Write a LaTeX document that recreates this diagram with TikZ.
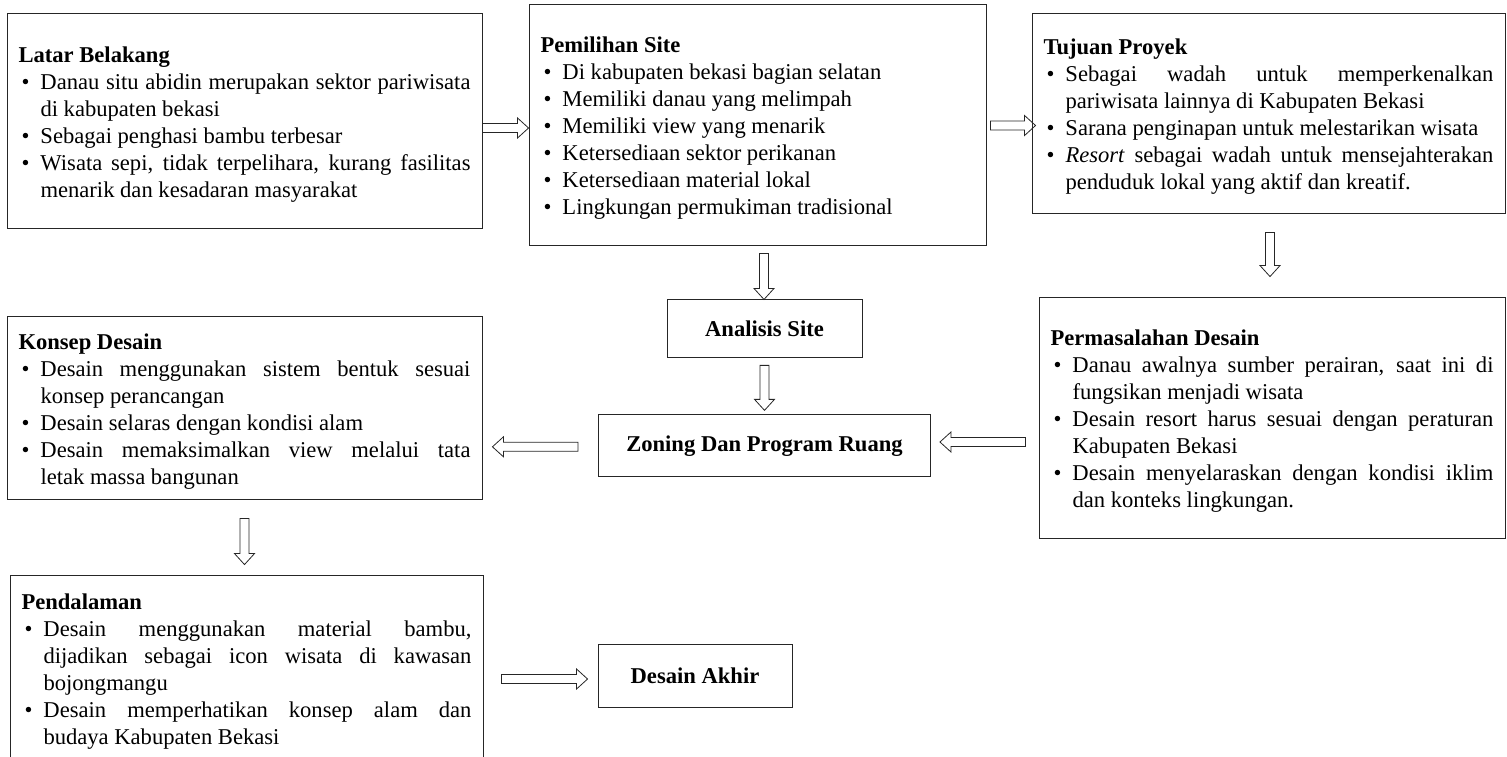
\documentclass[tikz,border=0pt]{standalone}
\usepackage{fontspec}
\setmainfont{Liberation Serif}
\usetikzlibrary{calc, positioning}

\hyphenpenalty=10000
\exhyphenpenalty=10000
\tolerance=9000

% bullet item inside a box
\newcommand{\itm}{\par\noindent\hangindent=22pt\hangafter=1\makebox[22pt][l]{\hspace{3pt}\textbullet}\ignorespaces}
% end of a box text
\newcommand{\boxend}{\par\vskip-8pt\nointerlineskip\hbox{}}

\begin{document}
\begin{tikzpicture}[
		x=1pt, y=-1pt,
		every node/.style={font=\fontsize{22.6}{27}\selectfont},
		listbox/.style={
			rectangle,
			draw=black!85,
			line width=0.9pt,
			inner xsep=11.5pt,
			inner ysep=2pt,
			align=justify
		},
		namebox/.style={
			rectangle,
			draw=black!85,
			line width=0.9pt,
			font=\fontsize{22.6}{27}\selectfont\bfseries,
			align=center
		},
		fatarrow/.style={
			draw=black!85,
			line width=0.8pt,
			to path={
				let \p1=(\tikztostart), \p2=(\tikztotarget), \n1={sign(\x2-\x1)} in
				(\x1,{\y1+4.5pt}) -- ({\x2-(\n1)*11pt},{\y1+4.5pt}) -- ({\x2-(\n1)*11pt},{\y1+10pt}) -- (\x2,\y1)
				-- ({\x2-(\n1)*11pt},{\y1-10pt}) -- ({\x2-(\n1)*11pt},{\y1-4.5pt}) -- (\x1,{\y1-4.5pt}) -- cycle
			}
		},
		fatarrowv/.style={
			draw=black!85,
			line width=0.8pt,
			to path={
				let \p1=(\tikztostart), \p2=(\tikztotarget), \n1={sign(\y2-\y1)} in
				({\x1+4.5pt},\y1) -- ({\x1+4.5pt},{\y2-(\n1)*11pt}) -- ({\x1+10pt},{\y2-(\n1)*11pt}) -- (\x1,\y2)
				-- ({\x1-10pt},{\y2-(\n1)*11pt}) -- ({\x1-4.5pt},{\y2-(\n1)*11pt}) -- ({\x1-4.5pt},\y1) -- cycle
			}
		}
	]
	\useasboundingbox (0,0) rectangle (1507,756);
	
	% top row
	\node[listbox, text width=452pt, minimum height=215pt] (latar) at (244.5,120.5) {%
		\textbf{Latar Belakang}
		\itm Danau situ abidin merupakan sektor pariwisata \linebreak di kabupaten bekasi
		\itm Sebagai penghasi bambu terbesar
		\itm Wisata sepi, tidak terpelihara, kurang fasilitas \linebreak menarik dan kesadaran masyarakat\boxend};
	\node[listbox, text width=434pt, minimum height=241pt] (pemilihan) at (757.5,124.5) {%
		\textbf{Pemilihan Site}
		\itm Di kabupaten bekasi bagian selatan
		\itm Memiliki danau yang melimpah
		\itm Memiliki view yang menarik
		\itm Ketersediaan sektor perikanan
		\itm Ketersediaan material lokal
		\itm Lingkungan permukiman tradisional\boxend};
	\node[listbox, text width=450pt, minimum height=200pt] (tujuan) at (1268.5,113) {%
		\textbf{Tujuan Proyek}
		\itm Sebagai wadah untuk memperkenalkan \linebreak pariwisata lainnya di Kabupaten Bekasi
		\itm Sarana penginapan untuk melestarikan wisata
		\itm \textit{Resort} sebagai wadah untuk mensejahterakan \linebreak penduduk lokal yang aktif dan kreatif.\boxend};
	
	% middle
	\node[namebox, minimum width=195pt, minimum height=58pt, below=54pt of pemilihan, xshift=7pt] (analisis) {Analisis Site};
	\node[namebox, minimum width=332pt, minimum height=62pt, below=56pt of analisis] (zoning) {Zoning Dan Program Ruang};
	\node[listbox, text width=443pt, minimum height=241pt] (masalah) at (1272,417.5) {%
		\textbf{Permasalahan Desain}
		\itm Danau awalnya sumber perairan, saat ini di \linebreak fungsikan menjadi wisata
		\itm Desain resort harus sesuai dengan peraturan \linebreak Kabupaten Bekasi
		\itm Desain menyelaraskan dengan kondisi iklim \linebreak dan konteks lingkungan.\boxend};
	\node[listbox, text width=452pt, minimum height=183pt] (konsep) at (244.5,407.5) {%
		\textbf{Konsep Desain}
		\itm Desain menggunakan sistem bentuk sesuai \linebreak konsep perancangan
		\itm Desain selaras dengan kondisi alam
		\itm Desain memaksimalkan view melalui tata \linebreak letak massa bangunan\boxend};
	
	% bottom
	\node[listbox, text width=450pt, minimum height=185pt] (pendalaman) at (246.5,667.5) {%
		\textbf{Pendalaman}
		\itm Desain menggunakan material bambu, \linebreak dijadikan sebagai icon wisata di kawasan \linebreak bojongmangu
		\itm Desain memperhatikan konsep alam dan \linebreak budaya Kabupaten Bekasi\boxend};
	\node[namebox, minimum width=194pt, minimum height=63pt] (akhir) at (695,675.5) {Desain Akhir};
	
	\draw[fatarrow] ([yshift=-7.5pt]latar.east) to (pemilihan.west);
	\draw[fatarrow] ([xshift=4pt,yshift=-1pt]pemilihan.east) to ([xshift=4pt]tujuan.west);
	\draw[fatarrowv] ([xshift=1.5pt,yshift=-19pt]tujuan.south) to ([yshift=20pt]masalah.north);
	\draw[fatarrowv] ([xshift=6.5pt,yshift=-8pt]pemilihan.south) to (analisis.north);
	\draw[fatarrowv] ([yshift=-7pt]analisis.south) to ([yshift=4pt]zoning.north);
	\draw[fatarrow] ([xshift=-13pt,yshift=-24.5pt]masalah.west) to ([xshift=9pt]zoning.east);
	\draw[fatarrow] ([xshift=-20pt,yshift=-1pt]zoning.west) to ([xshift=10pt]konsep.east);
	\draw[fatarrowv] ([yshift=-19pt]konsep.south) to ([yshift=10pt]pendalaman.north);
	\draw[fatarrow] ([xshift=18pt,yshift=-11.5pt]pendalaman.east) to ([xshift=-10pt]akhir.west);
	
\end{tikzpicture}
\end{document}
